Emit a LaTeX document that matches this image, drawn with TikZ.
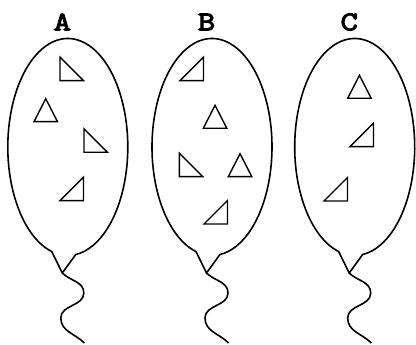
\documentclass[tikz,border=0pt]{standalone}
\usepackage{fontspec}
\newfontfamily\balfont{Latin Modern Mono}[FakeBold=4,FakeStretch=1.25]
\usetikzlibrary{calc}

\begin{document}
\begin{tikzpicture}[x=1pt,y=1pt,
    skin/.style={line width=1.6pt},
    tri/.style={line width=1.4pt, line join=miter}]
  \useasboundingbox (0,0) rectangle (416,345);
  % balloons A, B, C
  \foreach \c/\n in {67.8/A, 212/B, 354.7/C}
     {
       \node (lbl\n) at (\c-5.5,323) {\balfont\fontsize{27}{29}\selectfont \n};
       \coordinate (tip\n) at (\c-5.5,72);
       \coordinate (neck\n) at ($(\c,198)+(254.5:60 and 108.5)$);
       \draw[skin] (tip\n) -- (neck\n)
             arc[start angle=254.5, end angle=-82.4, x radius=60, y radius=108.5] -- cycle;
       \draw[skin] (tip\n) to[out=-45,in=90] ++(21.5,-20)
             to[out=-90,in=90] ++(-23,-25) to[out=-90,in=135] ++(23.6,-25);
     }
  % triangles, right angle bottom left
  \foreach \x/\y in {60/264.3, 84/192.7, 179.3/168.3}
     \draw[tri] (\x,\y) -- ++(0,23.5) -- ++(23.5,-23.5) -- cycle;
  % triangles, right angle bottom right
  \foreach \x/\y in {60/144.3, 180/264.3, 204/121, 350/198.3, 324/144}
     \draw[tri] (\x,\y) -- ++(23.5,0) -- ++(0,23.5) -- cycle;
  % upright triangles
  \foreach \x/\y in {34/223.3, 203.3/216.7, 228.3/168.3, 347.7/246.7}
     \draw[tri] (\x,\y) -- ++(23.5,0) -- ++(-11.75,23) -- cycle;
\end{tikzpicture}
\end{document}
